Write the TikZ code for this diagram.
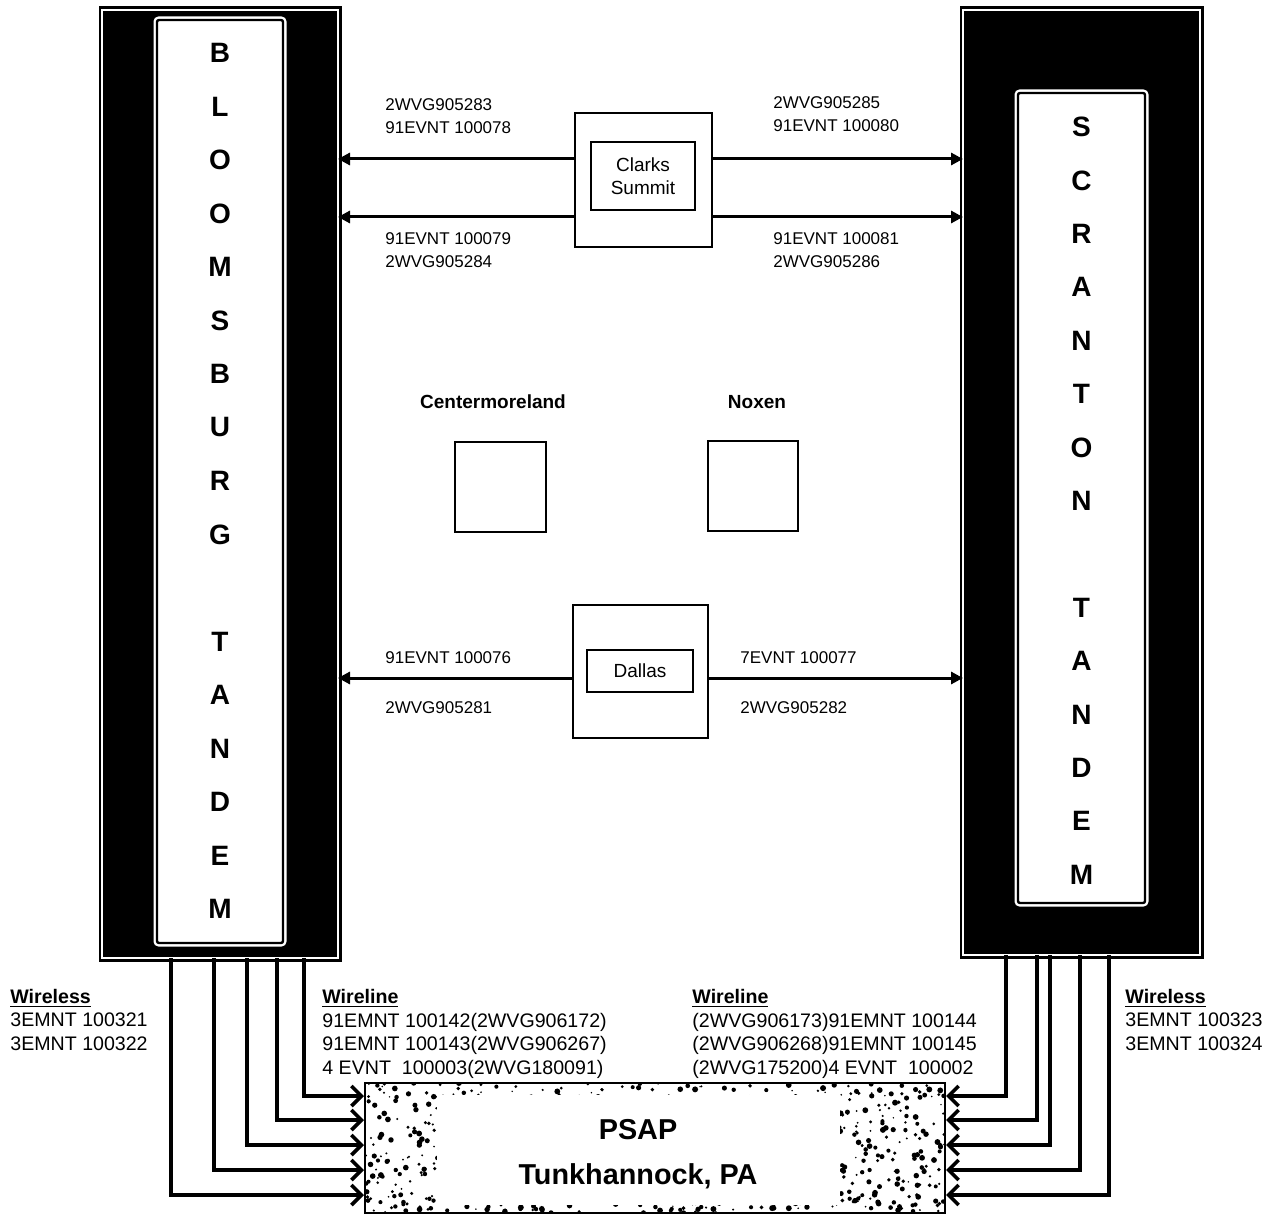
\documentclass[tikz,border=0pt]{standalone}
\usepackage{fontspec}
\setmainfont{Liberation Sans}
\usetikzlibrary{arrows.meta, positioning, calc}

\begin{document}
\begin{tikzpicture}[x=0.5pt, y=-0.5pt,
  tandem/.style={fill=black, draw=white, line width=1pt, preaction={draw=black, line width=3.5pt}, inner sep=0, outer sep=0},
  tandembox/.style={fill=white, draw=black, line width=1.2pt, preaction={draw=white, line width=3.5pt}, inner sep=0, rounded corners=1pt},
  letter/.style={font=\fontsize{14}{14}\selectfont\bfseries, inner sep=0},
  office/.style={draw, line width=0.8pt, inner sep=0},
  lbl/.style={font=\fontsize{8.5}{11.5}\selectfont, align=left, inner sep=0, anchor=base west},
  feedlbl/.style={font=\fontsize{9.8}{11.7}\selectfont, align=left, inner sep=0, anchor=base west},
  trunk/.style={line width=1.5pt, -{Triangle[length=6pt,width=6pt]}},
  feed/.style={line width=1.8pt, -{Straight Barb[length=5pt,width=10pt,line width=1.8pt]}}]
  \useasboundingbox (0,0) rectangle (1276,1214);

  % tandems
  \node (bloom) [tandem, minimum width=118pt, minimum height=474pt] at (220,484) {};
  \node (bloomin) [tandembox, minimum width=63pt, minimum height=461.5pt] at (220,481.5) {};
  \foreach \ch [count=\i] in {B,L,O,O,M,S,B,U,R,G,{},T,A,N,D,E,M}
    \node (bl\i) [letter] at (220,{53+(\i-1)*53.5}) {\ch};

  \node (scran) [tandem, minimum width=118.5pt, minimum height=472.5pt] at (1081.5,482.5) {};
  \node (scranin) [tandembox, minimum width=63.5pt, minimum height=405pt] at (1081.5,498) {};
  \foreach \ch [count=\i] in {S,C,R,A,N,T,O,N,{},T,A,N,D,E,M}
    \node (sc\i) [letter] at (1081.5,{127+(\i-1)*53.4}) {\ch};

  % offices
  \node (clarks) [office, minimum width=68.5pt, minimum height=67pt] at (643.5,180) {};
  \node (clarksin) [office, minimum width=52pt, minimum height=34pt, align=center,
    font=\fontsize{9.5}{11.5}\selectfont] at (643,176) {Clarks\\Summit};
  \node (dallas) [office, minimum width=67.5pt, minimum height=66.5pt] at (640.5,671.5) {};
  \node (dallasin) [office, minimum width=53pt, minimum height=21pt,
    font=\fontsize{9.5}{11.5}\selectfont] at (640,671) {Dallas};
  \node (cmbox) [office, minimum width=45.5pt, minimum height=45pt] at (500.5,487) {};
  \node (cmname) [font=\fontsize{9.5}{11}\selectfont\bfseries, anchor=base, inner sep=0] at (493,409) {Centermoreland};
  \node (nxbox) [office, minimum width=45pt, minimum height=45pt] at (753,486) {};
  \node (nxname) [font=\fontsize{9.5}{11}\selectfont\bfseries, anchor=base, inner sep=0] at (757,409) {Noxen};

  % trunk groups
  \coordinate (ya) at (0,159);
  \coordinate (yb) at (0,217);
  \coordinate (yc) at (0,678);
  \draw[trunk] (clarks.west |- ya) -- (bloom.east |- ya);
  \draw[trunk] (clarks.west |- yb) -- (bloom.east |- yb);
  \draw[trunk] (clarks.east |- ya) -- (scran.west |- ya);
  \draw[trunk] (clarks.east |- yb) -- (scran.west |- yb);
  \draw[trunk] (dallas.west |- yc) -- (bloom.east |- yc);
  \draw[trunk] (dallas.east |- yc) -- (scran.west |- yc);

  \node (t1) [lbl] at (385,134) {2WVG905283\\91EVNT 100078};
  \node (t2) [lbl] at (385,268) {91EVNT 100079\\2WVG905284};
  \node (t3) [lbl] at (773,132) {2WVG905285\\91EVNT 100080};
  \node (t4) [lbl] at (773,268) {91EVNT 100081\\2WVG905286};
  \node (t5) [lbl] at (385,663) {91EVNT 100076};
  \node (t6) [lbl] at (385,713) {2WVG905281};
  \node (t7) [lbl] at (740,663) {7EVNT 100077};
  \node (t8) [lbl] at (740,713) {2WVG905282};

  % PSAP
  \node (psap) [draw, line width=1pt, minimum width=290pt, minimum height=65pt, inner sep=0] at (655,1148) {};
  \begin{scope}
    \clip (psap.north west) rectangle (psap.south east);
    \pgfmathsetseed{17}
    \foreach \k in {1,...,900} {
      \pgfmathsetmacro{\rr}{0.4+1.1*rnd}
      \fill ({365+580*rnd},{1083+130*rnd}) circle (\rr pt);
    }
  \end{scope}
  \node (psapin) [fill=white, minimum width=201.5pt, minimum height=55pt, inner sep=0] at (638.5,1150) {};
  \node (psapname) [font=\fontsize{14.4}{16}\selectfont\bfseries] at (638,1130) {PSAP};
  \node (psaptown) [font=\fontsize{14.4}{16}\selectfont\bfseries] at (638,1176) {Tunkhannock, PA};

  % 911 trunks to the PSAP
  \foreach \dx/\dy in {34.5/56.5, 56/44, 72.5/31.5, 87.5/19, 101/7}
    \draw[feed] ([xshift=\dx pt]bloom.south west) |- ([yshift=-\dy pt]psap.north west);
  \foreach \dx/\dy in {21.5/7, 37/19, 43.5/31.5, 58.5/44, 73/56.5}
    \draw[feed] ([xshift=\dx pt]scran.south west) |- ([yshift=-\dy pt]psap.north east);

  \node (wlessl) [feedlbl] at (10,1050) {\underline{\textbf{Wireless}}\\3EMNT 100321\\3EMNT 100322};
  \node (wlinel) [feedlbl] at (322,1074) {\underline{\textbf{Wireline}}\\91EMNT 100142(2WVG906172)\\91EMNT 100143(2WVG906267)\\4 EVNT\ \ 100003(2WVG180091)};
  \node (wliner) [feedlbl] at (692,1074) {\underline{\textbf{Wireline}}\\(2WVG906173)91EMNT 100144\\(2WVG906268)91EMNT 100145\\(2WVG175200)4 EVNT\ \ 100002};
  \node (wlessr) [feedlbl] at (1125,1050) {\underline{\textbf{Wireless}}\\3EMNT 100323\\3EMNT 100324};
\end{tikzpicture}
\end{document}
